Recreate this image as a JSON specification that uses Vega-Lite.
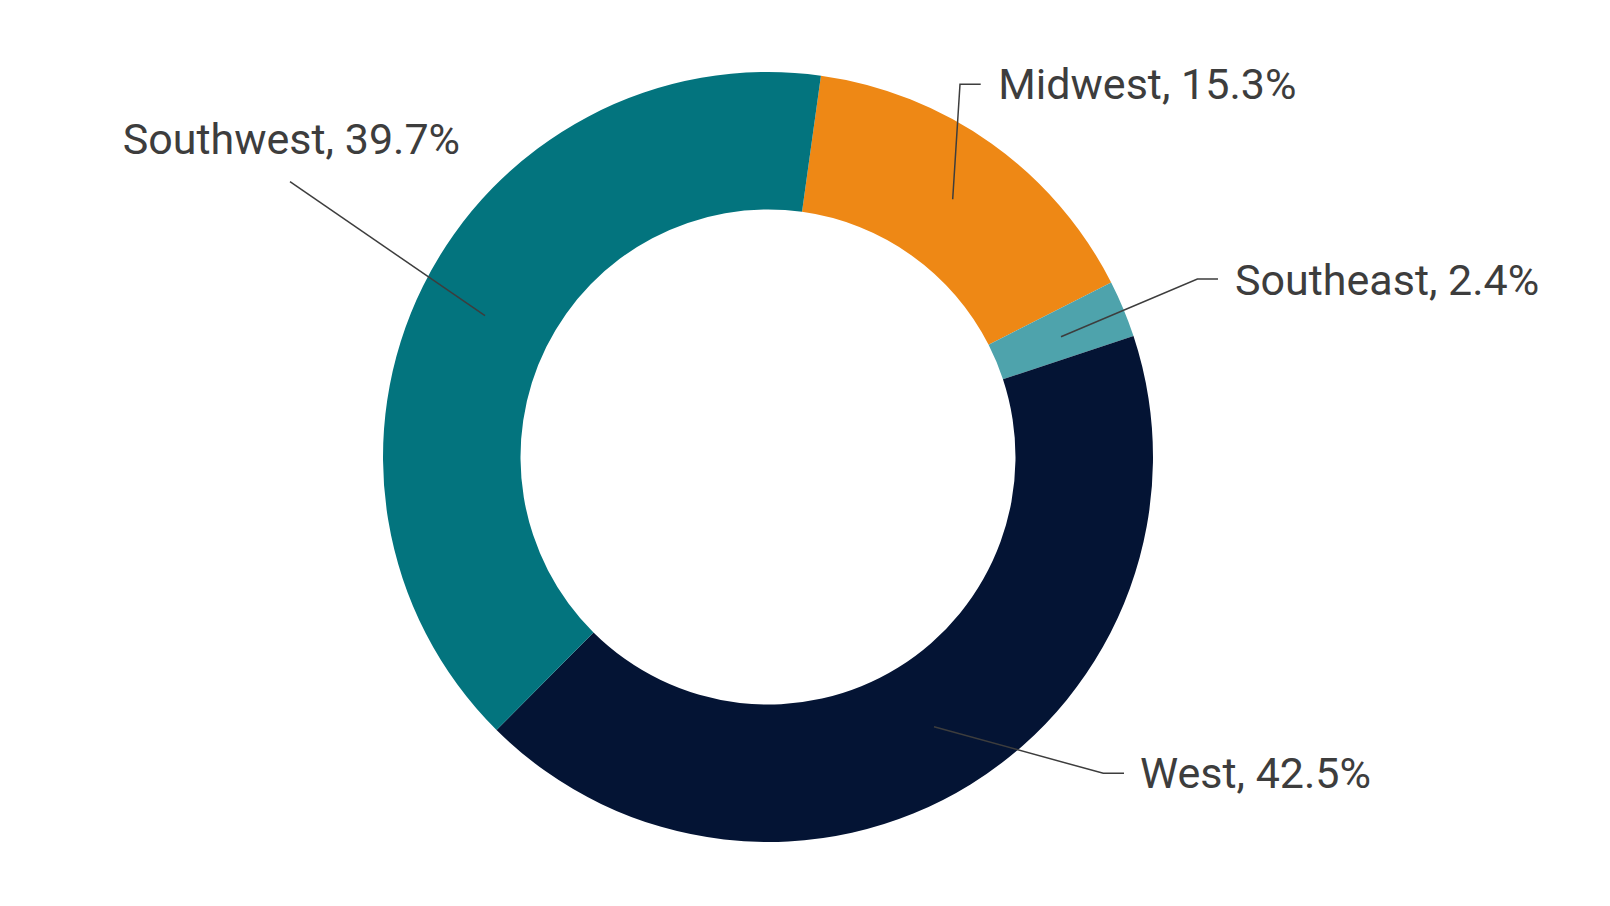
{
  "$schema": "https://vega.github.io/schema/vega-lite/v6.json",
  "width": 1610,
  "height": 906,
  "autosize": {"type": "fit", "contains": "padding"},
  "padding": 0,
  "background": "white",
  "config": {"view": {"stroke": null}},
  "datasets": {
    "slices": [
      {"region": "Midwest", "share": 15.3, "rank": 1},
      {"region": "Southeast", "share": 2.4, "rank": 2},
      {"region": "West", "share": 42.5, "rank": 3},
      {"region": "Southwest", "share": 39.7, "rank": 4}
    ],
    "leaders": [
      {"region": "Midwest", "seq": 1, "x": 0.4797, "y": 0.6694},
      {"region": "Midwest", "seq": 2, "x": 0.4987, "y": 0.9681},
      {"region": "Midwest", "seq": 3, "x": 0.5525, "y": 0.9681},
      {"region": "Southeast", "seq": 1, "x": 0.7610, "y": 0.3125},
      {"region": "Southeast", "seq": 2, "x": 1.1153, "y": 0.4623},
      {"region": "Southeast", "seq": 3, "x": 1.1688, "y": 0.4623},
      {"region": "West", "seq": 1, "x": 0.4312, "y": -0.7005},
      {"region": "West", "seq": 2, "x": 0.8709, "y": -0.8216},
      {"region": "West", "seq": 3, "x": 0.9247, "y": -0.8216},
      {"region": "Southwest", "seq": 1, "x": -0.7351, "y": 0.3670},
      {"region": "Southwest", "seq": 2, "x": -1.2416, "y": 0.7151}
    ],
    "labels": [
      {"label": "Midwest, 15.3%", "x": 0.5982, "y": 0.9294},
      {"label": "Southeast, 2.4%", "x": 1.2130, "y": 0.4208},
      {"label": "West, 42.5%", "x": 0.9662, "y": -0.8603},
      {"label": "Southwest, 39.7%", "x": -1.6761, "y": 0.7883}
    ]
  },
  "layer": [
    {
      "data": {"name": "slices"},
      "mark": {"type": "arc", "outerRadius": 385, "innerRadius": 247.5},
      "encoding": {
        "x": {"datum": 0, "type": "quantitative", "scale": {"domain": [-1.9948, 2.187], "nice": false, "zero": false}, "axis": null},
        "y": {"datum": 0, "type": "quantitative", "scale": {"domain": [-1.1662, 1.187], "nice": false, "zero": false}, "axis": null},
        "theta": {"field": "share", "type": "quantitative", "stack": true, "scale": {"range": [0.1379, 6.4211]}},
        "color": {
          "field": "region",
          "type": "nominal",
          "scale": {"domain": ["Midwest", "Southeast", "West", "Southwest"], "range": ["#EE8815", "#4EA3AC", "#041434", "#03747E"]},
          "legend": null
        },
        "order": {"field": "rank", "type": "quantitative"}
      }
    },
    {
      "data": {"name": "leaders"},
      "mark": {"type": "line", "color": "#3d3d3d", "strokeWidth": 1.5},
      "encoding": {
        "x": {"field": "x", "type": "quantitative", "axis": null},
        "y": {"field": "y", "type": "quantitative", "axis": null},
        "detail": {"field": "region", "type": "nominal"},
        "order": {"field": "seq", "type": "quantitative"}
      }
    },
    {
      "data": {"name": "labels"},
      "mark": {"type": "text", "align": "left", "baseline": "alphabetic", "font": "Roboto", "fontSize": 43, "color": "#3d3d3d"},
      "encoding": {
        "x": {"field": "x", "type": "quantitative", "axis": null},
        "y": {"field": "y", "type": "quantitative", "axis": null},
        "text": {"field": "label", "type": "nominal"}
      }
    }
  ]
}
